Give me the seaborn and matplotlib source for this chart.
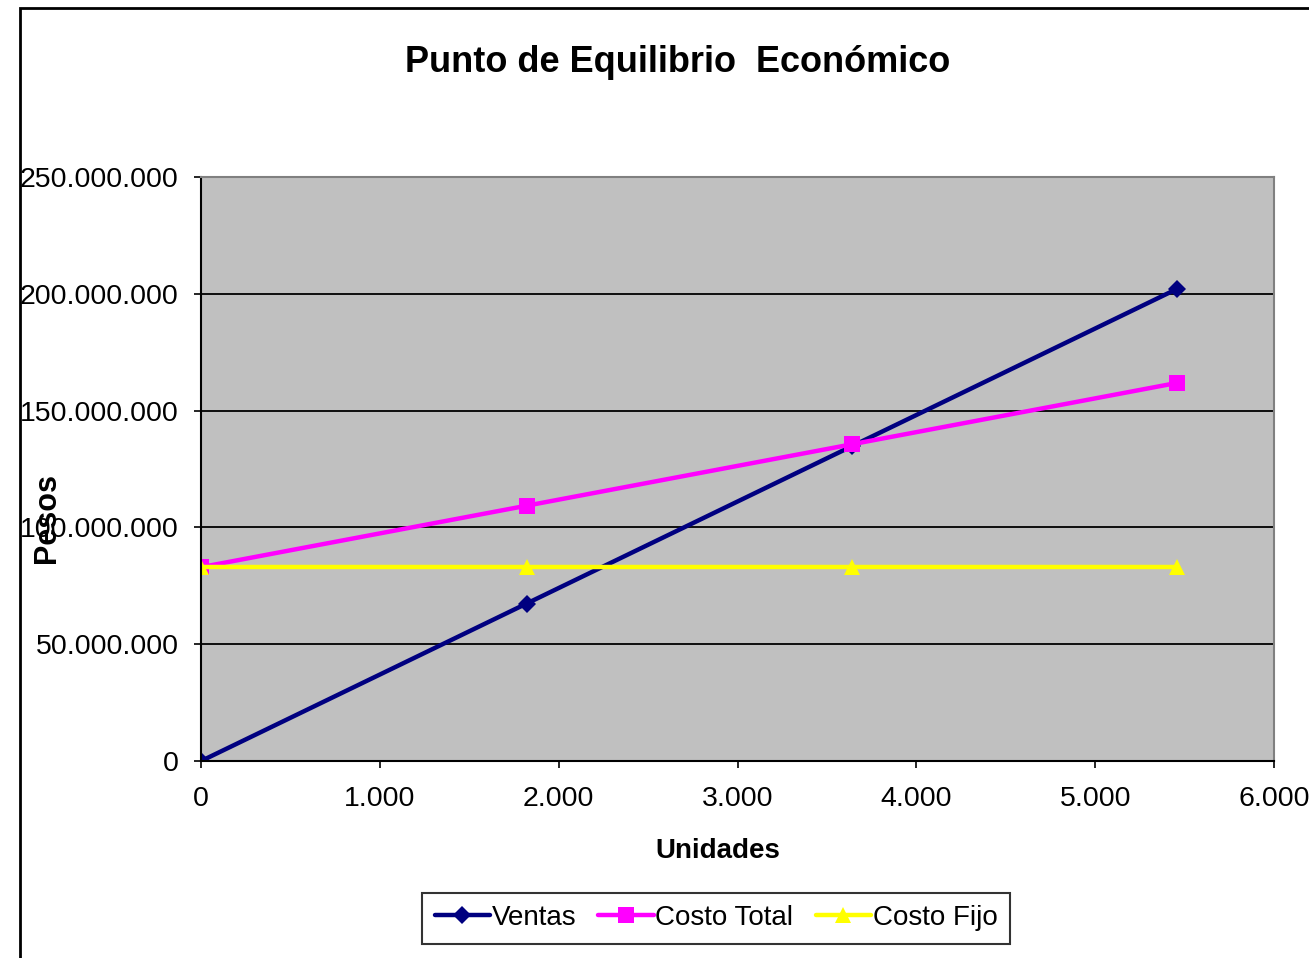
import matplotlib
matplotlib.use("Agg")
import matplotlib.pyplot as plt
import matplotlib.ticker as mticker
from matplotlib.patches import Rectangle
import seaborn as sns

unidades = [0, 1820, 3640, 5460]
ventas = [0, 67400000, 134800000, 202200000]
costo_total = [83000000, 109300000, 135600000, 161900000]
costo_fijo = [83000000, 83000000, 83000000, 83000000]

sns.set_style("white")
plt.rcParams['font.family'] = ['Liberation Sans', 'DejaVu Sans']
plt.rcParams['text.color'] = 'black'
plt.rcParams['xtick.color'] = 'black'
plt.rcParams['ytick.color'] = 'black'

fig = plt.figure(figsize=(13.09, 9.58), dpi=100)
ax = fig.add_axes([0.1536, 0.2056, 0.8197, 0.6096])
ax.set_facecolor("#c0c0c0")

# chart area border like the spreadsheet
fig.patches.append(Rectangle((20 / 1309, -0.01), 1.1, 1 - 8 / 958 + 0.01, transform=fig.transFigure,
                             fill=False, edgecolor="black", linewidth=2))

sns.lineplot(x=unidades, y=ventas, ax=ax, color="#000080", marker="D", markersize=9,
             linewidth=3.2, markeredgewidth=0, label="Ventas")
sns.lineplot(x=unidades, y=costo_total, ax=ax, color="#ff00ff", marker="s", markersize=11,
             linewidth=3.2, markeredgewidth=0, label="Costo Total")
sns.lineplot(x=unidades, y=costo_fijo, ax=ax, color="#ffff00", marker="^", markersize=11,
             linewidth=3.2, markeredgewidth=0, label="Costo Fijo")

ax.set_xlim(0, 6000)
ax.set_ylim(0, 250000000)
ax.xaxis.set_major_locator(mticker.MultipleLocator(1000))
ax.yaxis.set_major_locator(mticker.MultipleLocator(50000000))
fmt = mticker.FuncFormatter(lambda v, p: f"{int(v):,}".replace(",", "."))
ax.xaxis.set_major_formatter(fmt)
ax.yaxis.set_major_formatter(fmt)
ax.grid(axis="y", color="black", linewidth=1.3)
ax.set_axisbelow(True)

ax.tick_params(axis="both", labelsize=20.5, length=5, width=1.2, color="black", direction="out",
               left=True, bottom=True)
ax.tick_params(axis="y", pad=11)
ax.tick_params(axis="x", pad=13)
for s in ["left", "bottom"]:
    ax.spines[s].set_color("black")
    ax.spines[s].set_linewidth(1.5)
for s in ["top", "right"]:
    ax.spines[s].set_color("#808080")
    ax.spines[s].set_linewidth(1.5)

fig.text(0.518, 0.935, "Punto de Equilibrio  Económico", ha="center", va="center",
         fontsize=26, fontweight="bold")
fig.text(0.036, 0.459, "Pesos", rotation=90, ha="center", va="center",
         fontsize=22, fontweight="bold")
fig.text(0.548, 0.112, "Unidades", ha="center", va="center", fontsize=20, fontweight="bold")
ax.set_xlabel("")
ax.set_ylabel("")

leg = ax.legend(loc="center", bbox_to_anchor=(716 / 1309, 1 - 918 / 958), bbox_transform=fig.transFigure,
                ncol=3, fontsize=20, frameon=True, fancybox=False, edgecolor="black",
                handlelength=2.0, handletextpad=0.05, columnspacing=0.8, borderpad=0.45)
leg.get_frame().set_linewidth(1.5)

fig.savefig("out.png", dpi=100, facecolor="white")
